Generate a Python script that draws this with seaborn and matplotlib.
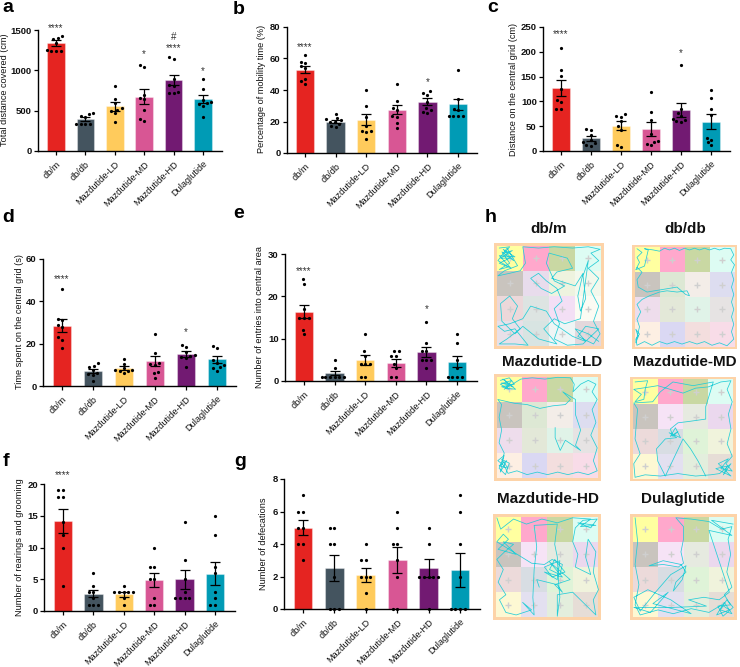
import numpy as np
import pandas as pd
import matplotlib
matplotlib.use("Agg")
import matplotlib.pyplot as plt
from matplotlib.colors import ListedColormap
import seaborn as sns

sns.set_theme(style="white")
plt.rcParams['font.family'] = ['Liberation Sans', 'DejaVu Sans']

groups = ["db/m", "db/db", "Mazdutide-LD", "Mazdutide-MD", "Mazdutide-HD", "Dulaglutide"]
colors = ["#E52421", "#44545F", "#FFCB5C", "#D85694", "#721A72", "#009BB5"]

# a
a_points = [[1420, 1395, 1385, 1340, 1250, 1245, 1245, 1245],
            [465, 460, 440, 420, 340, 335, 335, 330],
            [805, 650, 590, 530, 510, 490, 465, 355],
            [1070, 1045, 700, 660, 640, 510, 395, 375],
            [1160, 1135, 890, 820, 805, 735, 725, 725],
            [895, 765, 630, 610, 590, 580, 555, 425]]
a_bars = [1335, 395, 555, 675, 880, 640]
a_sem = [35, 25, 55, 95, 60, 50]
a_stars = [("****", 0, 1500), ("*", 3, 1170), ("****", 4, 1245), ("#", 4, 1390), ("*", 5, 965)]

# b
b_points = [[62, 58, 57, 55, 54, 47, 45.5, 44],
            [25, 22, 21.5, 21, 20, 19.5, 18.5, 17, 16.5],
            [40, 30, 23, 17, 13.7, 13.3, 13.7, 9],
            [43.5, 33, 28.5, 27, 23.5, 22.7, 19, 16],
            [39.5, 38, 37, 32.6, 28.4, 27.4, 26.3, 25.7],
            [53, 34, 28, 27, 23.5, 23.5, 23.5, 23.5]]
b_bars = [53, 20, 21, 27.5, 32.5, 31]
b_sem = [2.4, 1, 3.5, 3, 2.3, 3.5]
b_stars = [("****", 0, 66), ("*", 4, 43.5)]

# c
c_points = [[208, 163, 151, 124, 102, 99, 85, 85],
            [45, 43, 32, 23, 18, 16, 13, 11],
            [74, 71, 69, 60, 50, 43, 13, 9],
            [118, 79, 63, 35, 21, 19, 15, 12],
            [174, 85, 77, 70, 65, 62, 60, 58],
            [122, 107, 85, 72, 27, 23, 18, 12]]
c_bars = [127, 26, 51, 44, 82, 59]
c_sem = [16, 5, 9, 14, 14, 15]
c_stars = [("****", 0, 232), ("*", 4, 193)]

# d
d_points = [[46, 31.7, 31, 29, 28, 23, 21.7, 17.8],
            [10.7, 9.6, 8.8, 7.6, 6.3, 5.7, 5.2, 2.2],
            [12.8, 10.4, 8.3, 7.6, 7.6, 7.2, 7.1, 6],
            [24.4, 15.7, 10.7, 10.4, 10, 6.8, 6, 4],
            [19.4, 18.3, 16.2, 14.6, 14.2, 13.9, 13.4, 8.8],
            [19, 17.8, 12.3, 11, 9.8, 8.8, 8.3, 7.2]]
d_bars = [28.5, 7.2, 8.6, 11.8, 15, 12.6]
d_sem = [3, 1, 1, 2.2, 1.3, 1.7]
d_stars = [("****", 0, 49.5), ("*", 4, 24.5)]

# e
e_points = [[24, 23, 17, 15, 15, 15, 12, 11],
            [5, 3, 1, 1, 1, 1, 1, 1],
            [11, 7, 6, 4, 4, 4, 1, 1],
            [7, 7, 6, 6, 4, 3, 1, 1],
            [14, 9, 7, 7, 5, 5, 5, 3],
            [11, 9, 5, 3, 1, 1, 1, 1]]
e_bars = [16.4, 1.8, 4.9, 4.3, 6.9, 4.6]
e_sem = [1.6, 0.5, 1.2, 0.9, 1.2, 1.4]
e_stars = [("****", 0, 25.5), ("*", 4, 16.5)]

# f
f_points = [[19, 19, 18, 18, 14, 12, 10, 4],
            [6, 4, 3, 3, 2, 1, 1, 1],
            [4, 3, 3, 3, 3, 3, 2, 1],
            [10, 7, 7, 5, 5, 2, 1, 1],
            [14, 8, 5, 3, 2, 2, 2, 2],
            [15, 12, 7, 6, 3, 2, 1, 1]]
f_bars = [14.2, 2.75, 2.6, 4.9, 5, 5.9]
f_sem = [1.9, 0.6, 0.35, 1.15, 1.5, 1.85]
f_stars = [("****", 0, 21)]

# g
g_points = [[7, 6, 6, 5, 5, 4, 4, 3],
            [5, 5, 4, 4, 2, 0, 0, 0],
            [4, 3, 3, 2, 2, 2, 1, 0],
            [6, 5, 4, 4, 3, 2, 0, 0],
            [5, 4, 2, 2, 2, 2, 2, 0],
            [7, 6, 4, 2, 0, 0, 0, 0]]
g_bars = [5, 2.5, 2.1, 3, 2.5, 2.4]
g_sem = [0.46, 0.8, 0.45, 0.8, 0.55, 1.05]

# h: colour of the 16 floor cells
top_row = ["#FFFFA0", "#FFA8CC", "#C9D8A3", "#DDFCF3"]
cells_dbm = top_row + ["#C9C4BE", "#E8DCEC", "#EEF3DF", "#F3F8EC",
                       "#ECD8DA", "#DDE4E2", "#F3DFF5", "#FBFBF3",
                       "#E8E0E8", "#D8E4E2", "#EEF5F5", "#E3D8DC"]
cells_dbdb = top_row + ["#C9C4BE", "#DDE8D4", "#F3EDE8", "#DDDDF0",
                        "#EEDDEC", "#E3E8D8", "#E0F3E8", "#E6E3E3",
                        "#FDEFE3", "#DAD8F3", "#F3DEDE", "#F8DCE8"]
cells_md = top_row + ["#C9C4BE", "#F6E3F6", "#E6EAE0", "#EBD8EE",
                      "#ECDADA", "#D8DDE3", "#DFF3D8", "#F0F3DC",
                      "#FDF8D3", "#E3E0F0", "#E3EEDD", "#E6DDD6"]

# h: tracks, read by eye, in cell units
track_dbm = [(0.1,0.1),(0.5,0.05),(0.3,0.3),(0.6,0.2),(0.15,0.5),(0.5,0.5),(0.1,0.7),(0.45,0.85),(0.1,0.95),(0.5,0.7),
             (0.2,0.25),(0.65,0.6),(0.25,0.15),(0.7,0.45),(0.1,0.4),(0.55,0.9),(0.05,0.6),(0.4,0.1),(0.8,0.8),(0.3,1.0),
             (0.05,1.2),(0.5,1.1),(0.9,1.0),(1.1,0.7),(1.0,0.05),(1.6,0.1),(2.2,0.05),(2.9,0.1),(3.5,0.05),(3.95,0.15),
             (3.6,0.3),(3.9,0.6),(3.5,0.9),(3.9,1.3),(3.6,1.8),(3.9,2.4),(3.7,3.0),(3.95,3.5),(3.7,3.9),(3.1,3.6),
             (3.4,3.2),(3.9,3.3),(3.3,3.9),(2.7,3.95),(2.2,3.7),(2.4,3.1),(2.2,2.5),(2.5,2.2),(2.3,1.7),(1.9,1.4),
             (1.6,1.1),(1.3,1.3),(1.7,1.7),(2.1,1.9),(2.6,1.6),(2.2,1.4),(1.9,0.7),(2.0,0.3),(2.7,0.5),(2.9,0.9),
             (2.3,1.05),(2.1,1.3),(3.0,1.6),(3.3,1.1),(3.1,2.0),(3.2,2.6),(3.4,2.1),(3.3,1.2),(3.5,0.6),(3.2,2.9),
             (2.6,3.1),(2.2,2.9),(1.8,3.3),(2.3,3.9),(1.6,3.7),(1.0,3.2),(0.7,3.5),(0.2,3.0),(0.15,2.3),(0.5,2.0),
             (0.8,2.4),(0.6,2.9),(0.9,3.3),(0.4,3.7),(0.1,3.9),(0.7,3.9),(1.2,3.95),(0.7,3.3),(0.3,3.4),(0.05,3.2),
             (0.5,3.1),(1.0,2.9),(1.3,2.4),(1.9,2.6),(2.2,3.1),(2.9,3.6),(3.4,3.8),(3.0,3.3),(3.5,3.5),(3.9,3.8)]
track_dbdb = [(0.1,0.05),(0.3,0.2),(0.1,0.4),(0.2,0.6),(0.05,0.9),(0.4,0.75),(0.55,0.1),(0.4,0.05),(0.75,0.1),(1.0,0.15),
              (1.2,0.03),(1.4,0.1),(1.6,0.03),(1.8,0.12),(2.0,0.03),(2.2,0.1),(2.4,0.03),(2.6,0.1),(2.8,0.03),(3.0,0.1),
              (3.2,0.03),(3.4,0.1),(3.6,0.03),(3.85,0.05),(3.97,0.3),(3.85,0.5),(4.0,0.7),(3.88,1.0),(3.97,1.3),(3.88,1.6),
              (3.97,1.9),(3.88,2.2),(3.97,2.5),(3.88,2.8),(3.97,3.1),(3.88,3.4),(3.97,3.7),(3.7,3.97),(3.4,3.85),(3.1,3.95),
              (2.8,3.8),(2.5,3.9),(2.2,3.8),(1.9,3.9),(1.6,3.8),(1.3,3.9),(1.0,3.8),(0.7,3.95),(0.4,3.8),(0.1,3.95),
              (0.05,3.7),(0.2,3.5),(0.05,3.3),(0.15,3.6),(0.05,3.85),(0.2,3.2),(0.1,2.9),(0.25,2.6),(0.1,2.3),(0.3,2.1),
              (0.6,1.95),(1.0,1.8),(1.3,1.75),(1.7,1.8),(2.1,1.75),(2.2,1.95),(2.05,1.9),(1.7,1.6),(1.1,1.7),(0.5,1.8),
              (0.15,1.6),(0.1,1.3),(0.3,1.0),(0.1,0.8)]
track_ld = [(0.15,0.15),(0.5,0.05),(0.7,0.3),(0.2,0.4),(0.5,0.5),(0.15,0.3),(0.6,0.15),(0.35,0.45),(0.75,0.5),(0.25,0.1),
            (0.65,0.4),(0.2,0.25),(0.55,0.3),(0.3,0.5),(0.95,0.1),(1.4,0.05),(1.9,0.1),(2.4,0.03),(2.9,0.05),(3.05,0.3),
            (3.0,0.6),(3.3,0.3),(3.6,0.15),(3.9,0.3),(3.75,0.6),(3.95,0.9),(3.75,1.3),(3.9,1.8),(3.7,2.3),(3.95,2.8),
            (3.8,3.3),(3.95,3.7),(3.6,3.85),(3.2,3.75),(2.8,3.85),(2.4,3.75),(2.0,3.85),(1.6,3.75),(1.2,3.85),(0.8,3.7),
            (0.45,3.8),(0.3,3.5),(0.05,3.3),(0.3,3.1),(0.1,3.6),(0.35,3.85),(0.5,3.4),(0.2,3.25),(0.45,3.6),(0.1,3.5),
            (0.4,3.3),(0.15,3.75),(0.3,3.0),(0.1,2.6),(0.2,2.1),(0.1,1.6),(0.2,1.1),(0.05,0.9),(0.7,1.05),(1.2,1.1),
            (1.7,1.25),(2.2,1.15),(2.7,1.1),(2.9,0.9),(2.6,0.6),(3.1,0.9),(3.1,1.5),(3.3,2.1),(3.1,2.7),(3.3,2.9),
            (2.7,2.5),(2.5,2.9),(2.3,2.4),(2.3,2.0)]
track_md = [(0.1,0.1),(0.6,0.05),(0.5,0.4),(0.45,0.8),(0.1,0.9),(0.35,0.6),(0.05,0.4),(0.7,0.3),(1.0,0.25),(1.5,0.4),
            (2.0,0.55),(2.5,0.35),(3.0,0.3),(3.5,0.1),(3.9,0.05),(3.75,0.4),(3.95,0.9),(3.8,1.4),(3.9,2.0),(3.75,2.6),
            (3.95,3.1),(3.7,3.4),(3.95,3.7),(3.5,3.6),(3.8,3.2),(3.4,3.4),(3.9,3.9),(3.3,3.6),(3.75,3.5),(3.6,3.85),
            (3.9,3.4),(3.45,3.8),(3.1,3.85),(2.5,3.9),(1.8,3.8),(1.1,3.9),(0.5,3.85),(0.1,3.95),(0.05,3.4),(0.3,3.0),
            (0.1,2.4),(0.15,1.8),(0.2,1.2),(0.05,0.95),(0.8,0.9),(1.1,0.5),(1.6,0.1),(2.4,0.25),(3.2,0.1),(2.9,1.1),
            (2.9,1.6),(2.2,1.7),(1.8,1.75),(1.5,2.0),(1.6,2.3),(1.8,2.1),(1.5,2.3),(1.7,1.95),(1.9,2.35),(1.45,2.15),
            (1.75,2.35),(1.3,2.4),(0.95,2.8),(1.0,3.3),(1.3,3.9),(2.0,2.4),(2.3,2.8),(2.6,3.3),(2.9,3.9)]
track_hd = [(0.05,0.05),(0.2,0.5),(0.7,0.1),(1.2,0.3),(1.8,0.1),(2.4,0.25),(3.0,0.05),(3.7,0.1),(3.3,0.4),(3.9,0.35),
            (3.2,0.25),(3.7,0.45),(3.95,0.1),(3.4,0.15),(3.1,0.45),(3.0,1.0),(3.2,1.5),(3.1,2.0),(3.7,2.3),(3.5,1.6),
            (3.6,0.9),(3.9,1.4),(3.8,2.2),(4.0,2.9),(3.8,3.3),(3.9,3.9),(3.0,3.0),(2.4,3.1),(2.4,3.95),(2.5,3.2),
            (2.45,2.6),(2.4,1.6),(2.3,1.1),(2.4,0.3),(1.5,0.35),(1.6,1.2),(1.5,2.1),(1.45,3.2),(1.5,3.9),(1.05,3.4),
            (1.4,3.7),(0.8,3.9),(0.4,3.8),(0.15,3.3),(0.4,3.1),(0.1,2.6),(0.3,2.1),(0.05,1.7),(0.35,1.4),(0.7,1.1),
            (0.3,1.0),(0.8,1.5),(0.1,1.3),(0.5,0.9),(0.3,0.7),(0.05,1.0),(1.4,1.85),(1.9,1.9),(2.2,1.7),(2.6,1.9),
            (2.5,2.3),(2.1,2.1),(2.3,1.7),(2.7,2.2),(2.2,2.4),(1.9,2.0),(2.5,1.75),(2.4,2.5),(1.9,2.2),(2.6,2.4),
            (2.1,1.8),(2.9,2.5),(2.3,2.7),(2.6,3.0),(2.4,2.7),(1.6,2.5),(1.7,2.8)]
track_dula = [(0.1,0.05),(0.2,1.0),(0.1,1.9),(0.25,2.7),(0.1,3.5),(0.3,3.9),(1.0,3.7),(1.6,3.85),(2.3,3.65),(3.0,3.8),
              (3.5,3.5),(3.8,3.7),(3.3,3.9),(3.6,3.4),(3.9,3.85),(3.45,3.7),(3.7,3.3),(3.95,3.6),(3.55,3.95),(3.35,3.55),
              (3.85,3.5),(3.6,3.1),(3.9,2.8),(3.7,2.2),(3.85,1.5),(3.75,0.9),(3.9,0.4),(3.5,0.5),(3.0,0.2),(2.3,0.1),
              (1.7,0.05),(2.0,0.4),(2.0,0.9),(1.9,1.4),(2.0,1.85),(1.8,2.0),(1.2,1.9),(0.65,1.95),(1.2,1.75),(1.9,1.9),
              (2.1,2.2),(1.7,2.6),(1.6,2.95),(1.95,2.5),(2.1,1.95),(1.5,2.3),(0.9,3.0),(0.3,3.75),(0.05,3.2),(0.6,2.9),
              (1.5,3.3),(2.3,3.85),(0.8,3.45),(1.4,3.0),(0.7,3.8),(0.05,3.6),(1.6,3.6),(2.9,3.55),(2.2,3.3),(2.8,3.2),
              (3.4,3.3),(3.8,3.0),(3.0,0.55),(3.9,0.75),(3.1,0.15),(3.95,0.3)]

FIG_W, FIG_H = 740, 667


def px_axes(x0, x1, y_top, y_bottom):
    return fig.add_axes([x0 / FIG_W, 1 - y_bottom / FIG_H, (x1 - x0) / FIG_W, (y_bottom - y_top) / FIG_H])


def bar_panel(box, centers, ymax, ticks, ylabel, label_pos, points, bars, sems, stars=()):
    x0, x1, y_top, y_bottom = box
    ax = px_axes(x0, x1, y_top, y_bottom)
    long_df = pd.DataFrame({
        "group": np.repeat(groups, [len(p) for p in points]),
        "value": np.concatenate(points),
    })
    sns.barplot(x=groups, y=bars, hue=groups, palette=colors, saturation=1, width=0.6,
                edgecolor=(1, 1, 1, 0.35), linewidth=0.8, legend=False, ax=ax)
    # the clear edge only widens the swarm spacing
    sns.swarmplot(data=long_df, x="group", y="value", order=groups, color="black", size=2.3,
                  linewidth=0.9, edgecolor=(0, 0, 0, 0), ax=ax)
    ax.errorbar(range(6), bars, yerr=sems, fmt="none", ecolor="black", elinewidth=0.9,
                capsize=3.4, capthick=0.9, zorder=5)
    for coll in ax.collections:
        coll.set_clip_on(False)
        coll.set_zorder(6)
    step = (centers[1] - centers[0])
    ax.set_xlim((x0 - centers[0]) / step, (x1 - centers[0]) / step)
    ax.set_ylim(0, ymax)
    ax.set_yticks(ticks)
    ax.set_xticks(range(6))
    ax.set_xticklabels(groups, rotation=45, ha="right", rotation_mode="anchor", fontsize=6.6, color="#111111")
    ax.tick_params(axis="both", length=3, width=0.9, color="black", pad=1.5, left=True, bottom=True)
    ax.tick_params(axis="y", labelsize=6.8, labelcolor="#111111")
    ax.tick_params(axis="x", pad=3)
    for lab in ax.get_yticklabels():
        lab.set_fontweight("semibold")
    ax.set_xlabel("")
    ax.set_ylabel(ylabel, fontsize=6.6, color="#111111", va="center")
    ax.yaxis.set_label_coords((label_pos[0] - x0) / (x1 - x0), (y_bottom - label_pos[1]) / (y_bottom - y_top))
    sns.despine(ax=ax)
    ax.spines["left"].set_linewidth(1.0)
    ax.spines["bottom"].set_linewidth(1.0)
    ax.spines["left"].set_color("black")
    ax.spines["bottom"].set_color("black")
    for s, i, v in stars:
        ax.annotate(s, (i, v), xytext=(0, 1.5), textcoords="offset points", ha="center", va="center",
                    fontsize=7, color="#333333", annotation_clip=False)
    return ax


def track_panel(box, cells, track, title, title_x, title_y):
    ax = px_axes(*box)
    sns.heatmap(np.arange(16).reshape(4, 4), cmap=ListedColormap(cells), cbar=False, ax=ax, linewidths=0)
    ax.set_xlim(-0.1, 4.1)
    ax.set_ylim(4.1, -0.1)
    ax.set_facecolor("#FDD3A8")
    ax.set_xticks([])
    ax.set_yticks([])
    cx, cy = np.meshgrid(np.arange(4) + 0.5, np.arange(4) + 0.5)
    ax.scatter(cx.ravel(), cy.ravel(), marker="+", s=18, linewidths=1.0, color="#CFCFCF", zorder=3)
    xs, ys = zip(*track)
    sns.lineplot(x=list(xs), y=list(ys), sort=False, estimator=None, color="#25CDD6", linewidth=0.55, ax=ax, zorder=4)
    ax.set_xlabel("")
    ax.set_ylabel("")
    fig.text(title_x / FIG_W, 1 - title_y / FIG_H, title, ha="center", va="center",
             fontsize=11, fontweight="bold", color="#111111")


fig = plt.figure(figsize=(FIG_W / 100, FIG_H / 100), dpi=100)

bar_panel((38, 222, 30, 151), [56, 85.4, 114.8, 144.2, 173.6, 203], 1500, [0, 500, 1000, 1500],
          "Total distance covered (cm)", (5, 90), a_points, a_bars, a_sem, a_stars)
bar_panel((287, 477, 27, 153), [305, 335.6, 366.2, 396.8, 427.4, 458], 80, [0, 20, 40, 60, 80],
          "Percentage of mobility time (%)", (261, 89), b_points, b_bars, b_sem, b_stars)
bar_panel((543, 730, 27, 151), [561, 591, 621, 651, 681, 711], 250, [0, 50, 100, 150, 200, 250],
          "Distance on the central grid (cm)", (514, 89), c_points, c_bars, c_sem, c_stars)
bar_panel((43, 236, 259, 386), [62, 93, 124, 155, 185.5, 216], 60, [0, 20, 40, 60],
          "Time spent on the central grid (s)", (20, 322), d_points, d_bars, d_sem, d_stars)
bar_panel((285, 477, 254, 381), [304, 334.6, 365.2, 395.8, 426.4, 457], 30, [0, 10, 20, 30],
          "Number of entries into central area", (260, 317), e_points, e_bars, e_sem, e_stars)
bar_panel((44, 235, 484, 611), [63, 93.4, 123.8, 154.2, 184.6, 215], 20, [0, 5, 10, 15, 20],
          "Number of rearings and grooming", (19, 547), f_points, f_bars, f_sem, f_stars)
bar_panel((284, 480, 479, 609), [303, 334.4, 365.8, 397.2, 428.6, 460], 8, [0, 2, 4, 6, 8],
          "Number of defecations", (264, 544), g_points, g_bars, g_sem)

track_panel((494, 604, 243, 349), cells_dbm, track_dbm, "db/m", 549, 229)
track_panel((632, 737, 245, 349), cells_dbdb, track_dbdb, "db/db", 685, 229)
track_panel((494, 601, 374, 481), cells_dbdb, track_ld, "Mazdutide-LD", 552, 362)
track_panel((630, 736, 377, 481), cells_md, track_md, "Mazdutide-MD", 685, 362)
track_panel((493, 601, 514, 620), cells_md, track_hd, "Mazdutide-HD", 548, 499)
track_panel((630, 737, 514, 620), cells_md, track_dula, "Dulaglutide", 683, 499)

for letter, lx, ly in [("a", 8, 8), ("b", 239, 10), ("c", 493, 8), ("d", 8, 217), ("e", 239, 213),
                       ("f", 6, 461), ("g", 240, 461), ("h", 491, 217)]:
    fig.text(lx / FIG_W, 1 - ly / FIG_H, letter, ha="center", va="center", fontsize=14, fontweight="bold", color="black")

fig.savefig("out.png", dpi=100)
